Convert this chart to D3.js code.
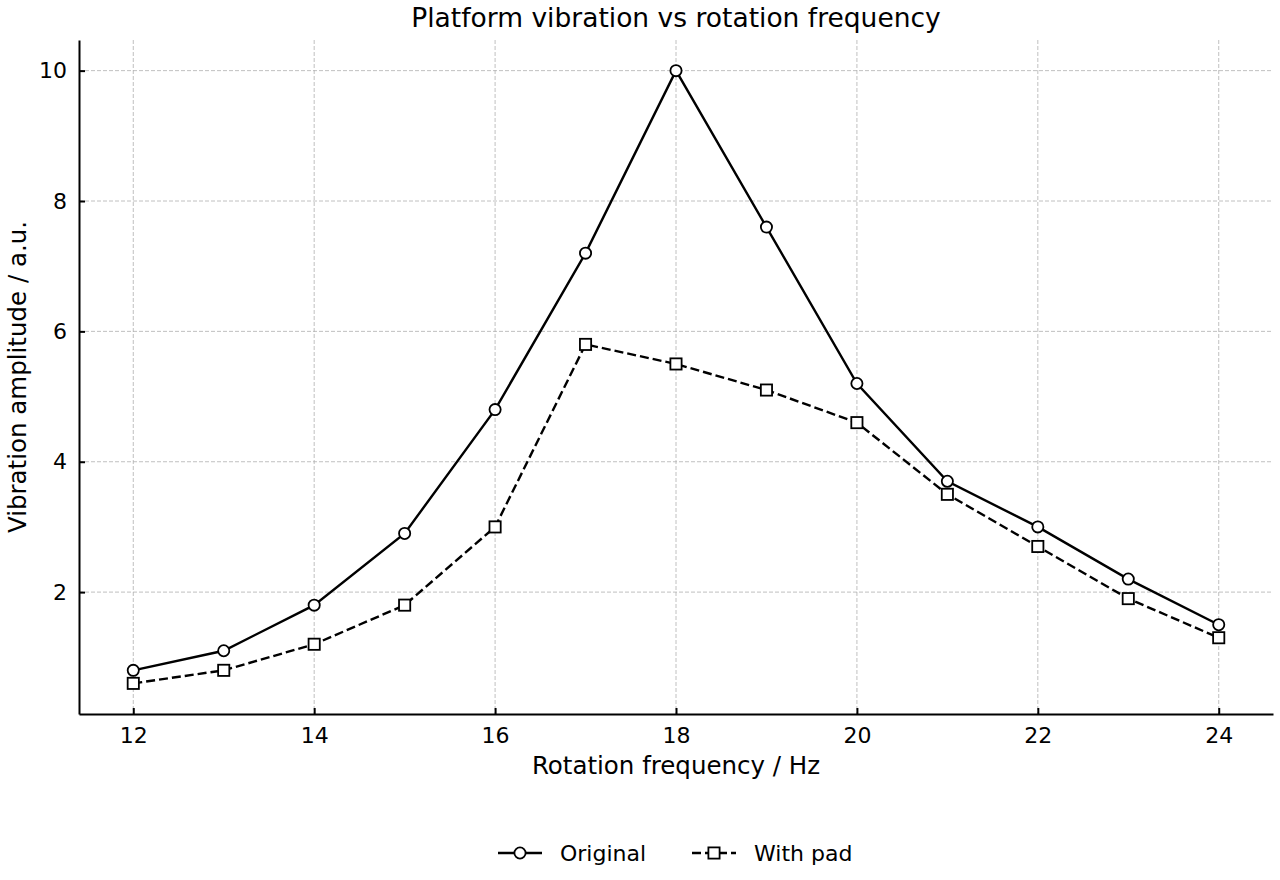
<!DOCTYPE html>
<html>
<head>
<meta charset="utf-8">
<script src="https://cdn.jsdelivr.net/npm/d3@7"></script>
<style>
  body { margin: 0; background: #fff; }
  svg { font-family: "DejaVu Sans", sans-serif; }
</style>
</head>
<body>
<div id="chart"></div>
<script>
const freq = [12, 13, 14, 15, 16, 17, 18, 19, 20, 21, 22, 23, 24];
const original = [0.8, 1.1, 1.8, 2.9, 4.8, 7.2, 10.0, 7.6, 5.2, 3.7, 3.0, 2.2, 1.5];
const withPad = [0.6, 0.8, 1.2, 1.8, 3.0, 5.8, 5.5, 5.1, 4.6, 3.5, 2.7, 1.9, 1.3];
const xTicks = [12, 14, 16, 18, 20, 22, 24];
const yTicks = [2, 4, 6, 8, 10];

const width = 1280, height = 880,
      margin = ({ top: 40, right: 7, bottom: 166, left: 79 });

let svg = d3.select("#chart")
    .append("svg")
    .attr("width", width)
    .attr("height", height);

// matplotlib-like 5% margins
let x = d3.scaleLinear()
    .domain([11.4, 24.6])
    .range([margin.left, width - margin.right]);

let y = d3.scaleLinear()
    .domain([0.13, 10.47])
    .range([height - margin.bottom, margin.top]);

// grid
svg.append("g")
    .selectAll("line")
    .data(xTicks)
    .join("line")
    .attr("x1", d => x(d)).attr("x2", d => x(d))
    .attr("y1", margin.top).attr("y2", height - margin.bottom)
    .attr("stroke", "#b0b0b0").attr("stroke-width", 0.8)
    .attr("stroke-dasharray", "4,2");

svg.append("g")
    .selectAll("line")
    .data(yTicks)
    .join("line")
    .attr("x1", margin.left).attr("x2", width - margin.right)
    .attr("y1", d => y(d)).attr("y2", d => y(d))
    .attr("stroke", "#b0b0b0").attr("stroke-width", 0.8)
    .attr("stroke-dasharray", "4,2");

// axes with inward ticks
let xAxis = svg.append("g")
    .attr("transform", `translate(0,${height - margin.bottom})`)
    .call(d3.axisBottom(x).tickValues(xTicks).tickSizeInner(-6).tickSizeOuter(0).tickPadding(13));
let yAxis = svg.append("g")
    .attr("transform", `translate(${margin.left},0)`)
    .call(d3.axisLeft(y).tickValues(yTicks).tickSizeInner(-6).tickSizeOuter(0).tickPadding(12));

for (let ax of [xAxis, yAxis]) {
    ax.attr("font-size", 22).attr("font-family", "DejaVu Sans");
    ax.select(".domain").attr("stroke", "#000").attr("stroke-width", 2);
    ax.selectAll(".tick line").attr("stroke", "#000").attr("stroke-width", 2);
    ax.selectAll(".tick text")
        .style("font-size", "22px")
        .attr("fill", "#000");
}

// lines
let line = d3.line()
    .x(d => x(d[0]))
    .y(d => y(d[1]));

let origData = freq.map((f, i) => [f, original[i]]);
let padData = freq.map((f, i) => [f, withPad[i]]);

svg.append("path")
    .datum(origData)
    .attr("d", line)
    .attr("fill", "none")
    .attr("stroke", "#000")
    .attr("stroke-width", 2.4);

svg.append("path")
    .datum(padData)
    .attr("d", line)
    .attr("fill", "none")
    .attr("stroke", "#000")
    .attr("stroke-width", 2.4)
    .attr("stroke-dasharray", "9,4");

svg.append("g")
    .selectAll("circle")
    .data(origData)
    .join("circle")
    .attr("cx", d => x(d[0]))
    .attr("cy", d => y(d[1]))
    .attr("r", 5.6)
    .attr("fill", "#fff")
    .attr("stroke", "#000")
    .attr("stroke-width", 1.8);

svg.append("g")
    .selectAll("rect")
    .data(padData)
    .join("rect")
    .attr("x", d => x(d[0]) - 5.6)
    .attr("y", d => y(d[1]) - 5.6)
    .attr("width", 11.2)
    .attr("height", 11.2)
    .attr("fill", "#fff")
    .attr("stroke", "#000")
    .attr("stroke-width", 1.8);

// title and labels
svg.append("text")
    .attr("x", (margin.left + width - margin.right) / 2)
    .attr("y", 27)
    .attr("text-anchor", "middle")
    .attr("font-size", 26.5)
    .text("Platform vibration vs rotation frequency");

svg.append("text")
    .attr("x", (margin.left + width - margin.right) / 2)
    .attr("y", 774)
    .attr("text-anchor", "middle")
    .attr("font-size", 24.5)
    .text("Rotation frequency / Hz");

svg.append("text")
    .attr("transform", `translate(26,${(margin.top + height - margin.bottom) / 2}) rotate(-90)`)
    .attr("text-anchor", "middle")
    .attr("font-size", 24.5)
    .text("Vibration amplitude / a.u.");

// legend
let legend = svg.append("g").attr("transform", "translate(498,853)");

legend.append("line")
    .attr("x1", 0).attr("x2", 44).attr("y1", 0).attr("y2", 0)
    .attr("stroke", "#000").attr("stroke-width", 2.4);
legend.append("circle")
    .attr("cx", 22).attr("cy", 0).attr("r", 5.6)
    .attr("fill", "#fff").attr("stroke", "#000").attr("stroke-width", 1.8);
legend.append("text")
    .attr("x", 62).attr("y", 8)
    .attr("font-size", 22)
    .text("Original");

legend.append("line")
    .attr("x1", 194).attr("x2", 238).attr("y1", 0).attr("y2", 0)
    .attr("stroke", "#000").attr("stroke-width", 2.4)
    .attr("stroke-dasharray", "9,4");
legend.append("rect")
    .attr("x", 210.4).attr("y", -5.6).attr("width", 11.2).attr("height", 11.2)
    .attr("fill", "#fff").attr("stroke", "#000").attr("stroke-width", 1.8);
legend.append("text")
    .attr("x", 256).attr("y", 8)
    .attr("font-size", 22)
    .text("With pad");
</script>
</body>
</html>
